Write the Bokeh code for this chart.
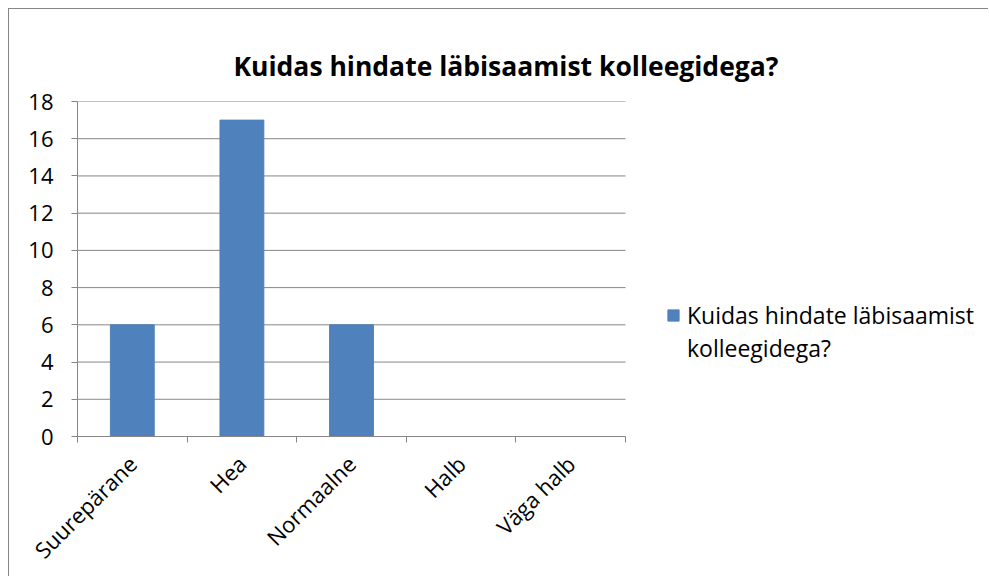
import math
from bokeh.plotting import figure
from bokeh.models import (Range1d, FixedTicker, Legend, LegendItem, ColumnDataSource, Title)
from bokeh.embed import file_html
from bokeh.resources import INLINE

title_text = "Kuidas hindate läbisaamist kolleegidega?"
legend_lines = ["Kuidas hindate läbisaamist", "kolleegidega?"]
categories = ["Suurepärane", "Hea", "Normaalne", "Halb", "Väga halb"]
values = [6, 17, 6, 0, 0]
y_ticks = [0, 2, 4, 6, 8, 10, 12, 14, 16, 18]

FONT = "Open Sans"
GRID = "#868686"
BAR = "#4F81BD"

# layout (pixels)
W, H = 980, 568
LEFT, TOP, BOTTOM = 68, 92, 141
CAT_PX = 109.6

n = len(categories)
centers = [i + 0.5 for i in range(n)]
bounds = list(range(n + 1))
frame_w = W - LEFT
x_end = frame_w / CAT_PX

src = ColumnDataSource(dict(x=centers, top=values, cat=categories))
grid_src = ColumnDataSource(dict(y=y_ticks, x0=[0] * len(y_ticks), x1=[n] * len(y_ticks)))

p = figure(width=W, height=H, output_backend="svg", toolbar_location=None,
           x_range=Range1d(0, x_end), y_range=Range1d(0, 18),
           min_border_left=LEFT, min_border_top=TOP, min_border_bottom=BOTTOM, min_border_right=0)
p.styles = {"margin-left": "8px", "margin-top": "8px",
            "border-style": "solid none none solid", "border-width": "1px 0px 0px 1px",
            "border-color": GRID}
p.outline_line_color = None
p.background_fill_color = "white"
p.border_fill_color = "white"

# gridlines limited to the category span
p.segment(x0="x0", x1="x1", y0="y", y1="y", source=grid_src, line_color=GRID, line_width=1)

r = p.vbar(x="x", top="top", width=0.4, source=src, fill_color=BAR, line_color=BAR)
r_blank = p.vbar(x=[], top=[], width=0.4, fill_alpha=0, line_alpha=0)

# title
t = Title(text=title_text, align="left", offset=156, text_font=FONT,
          text_font_size="26.5px", text_font_style="bold", text_color="black", standoff=36)
p.add_layout(t, "above")

# y axis
p.yaxis.ticker = FixedTicker(ticks=y_ticks, minor_ticks=[])
p.yaxis.axis_line_color = GRID
p.yaxis.major_tick_line_color = GRID
p.yaxis.major_tick_out = 6
p.yaxis.major_tick_in = 0
p.yaxis.minor_tick_line_color = None
p.yaxis.major_label_text_font = FONT
p.yaxis.major_label_text_font_size = "22px"
p.yaxis.major_label_text_color = "black"
p.yaxis.major_label_standoff = 18

# x axis
p.xaxis.ticker = FixedTicker(ticks=centers, minor_ticks=bounds)
p.xaxis.bounds = (0, n)
p.xaxis.major_label_overrides = {c: nm for c, nm in zip(centers, categories)}
p.xaxis.axis_line_color = GRID
p.xaxis.major_tick_line_color = None
p.xaxis.minor_tick_line_color = GRID
p.xaxis.minor_tick_out = 6
p.xaxis.minor_tick_in = 0
p.xaxis.major_label_orientation = math.pi / 4
p.xaxis.major_label_text_font = FONT
p.xaxis.major_label_text_font_size = "22px"
p.xaxis.major_label_text_color = "black"
p.xaxis.major_label_standoff = 17

p.xgrid.grid_line_color = None
p.ygrid.grid_line_color = None

legend = Legend(items=[LegendItem(label=legend_lines[0], renderers=[r]),
                       LegendItem(label=legend_lines[1], renderers=[r_blank])],
                location=(589, 72), border_line_color=None,
                background_fill_alpha=0, label_text_font=FONT,
                label_text_font_size="23px", label_text_color="black",
                glyph_width=14, glyph_height=14, margin=0, padding=0,
                label_standoff=7, spacing=1)
p.add_layout(legend, "center")

open("out.html", "w").write(file_html(p, INLINE))
